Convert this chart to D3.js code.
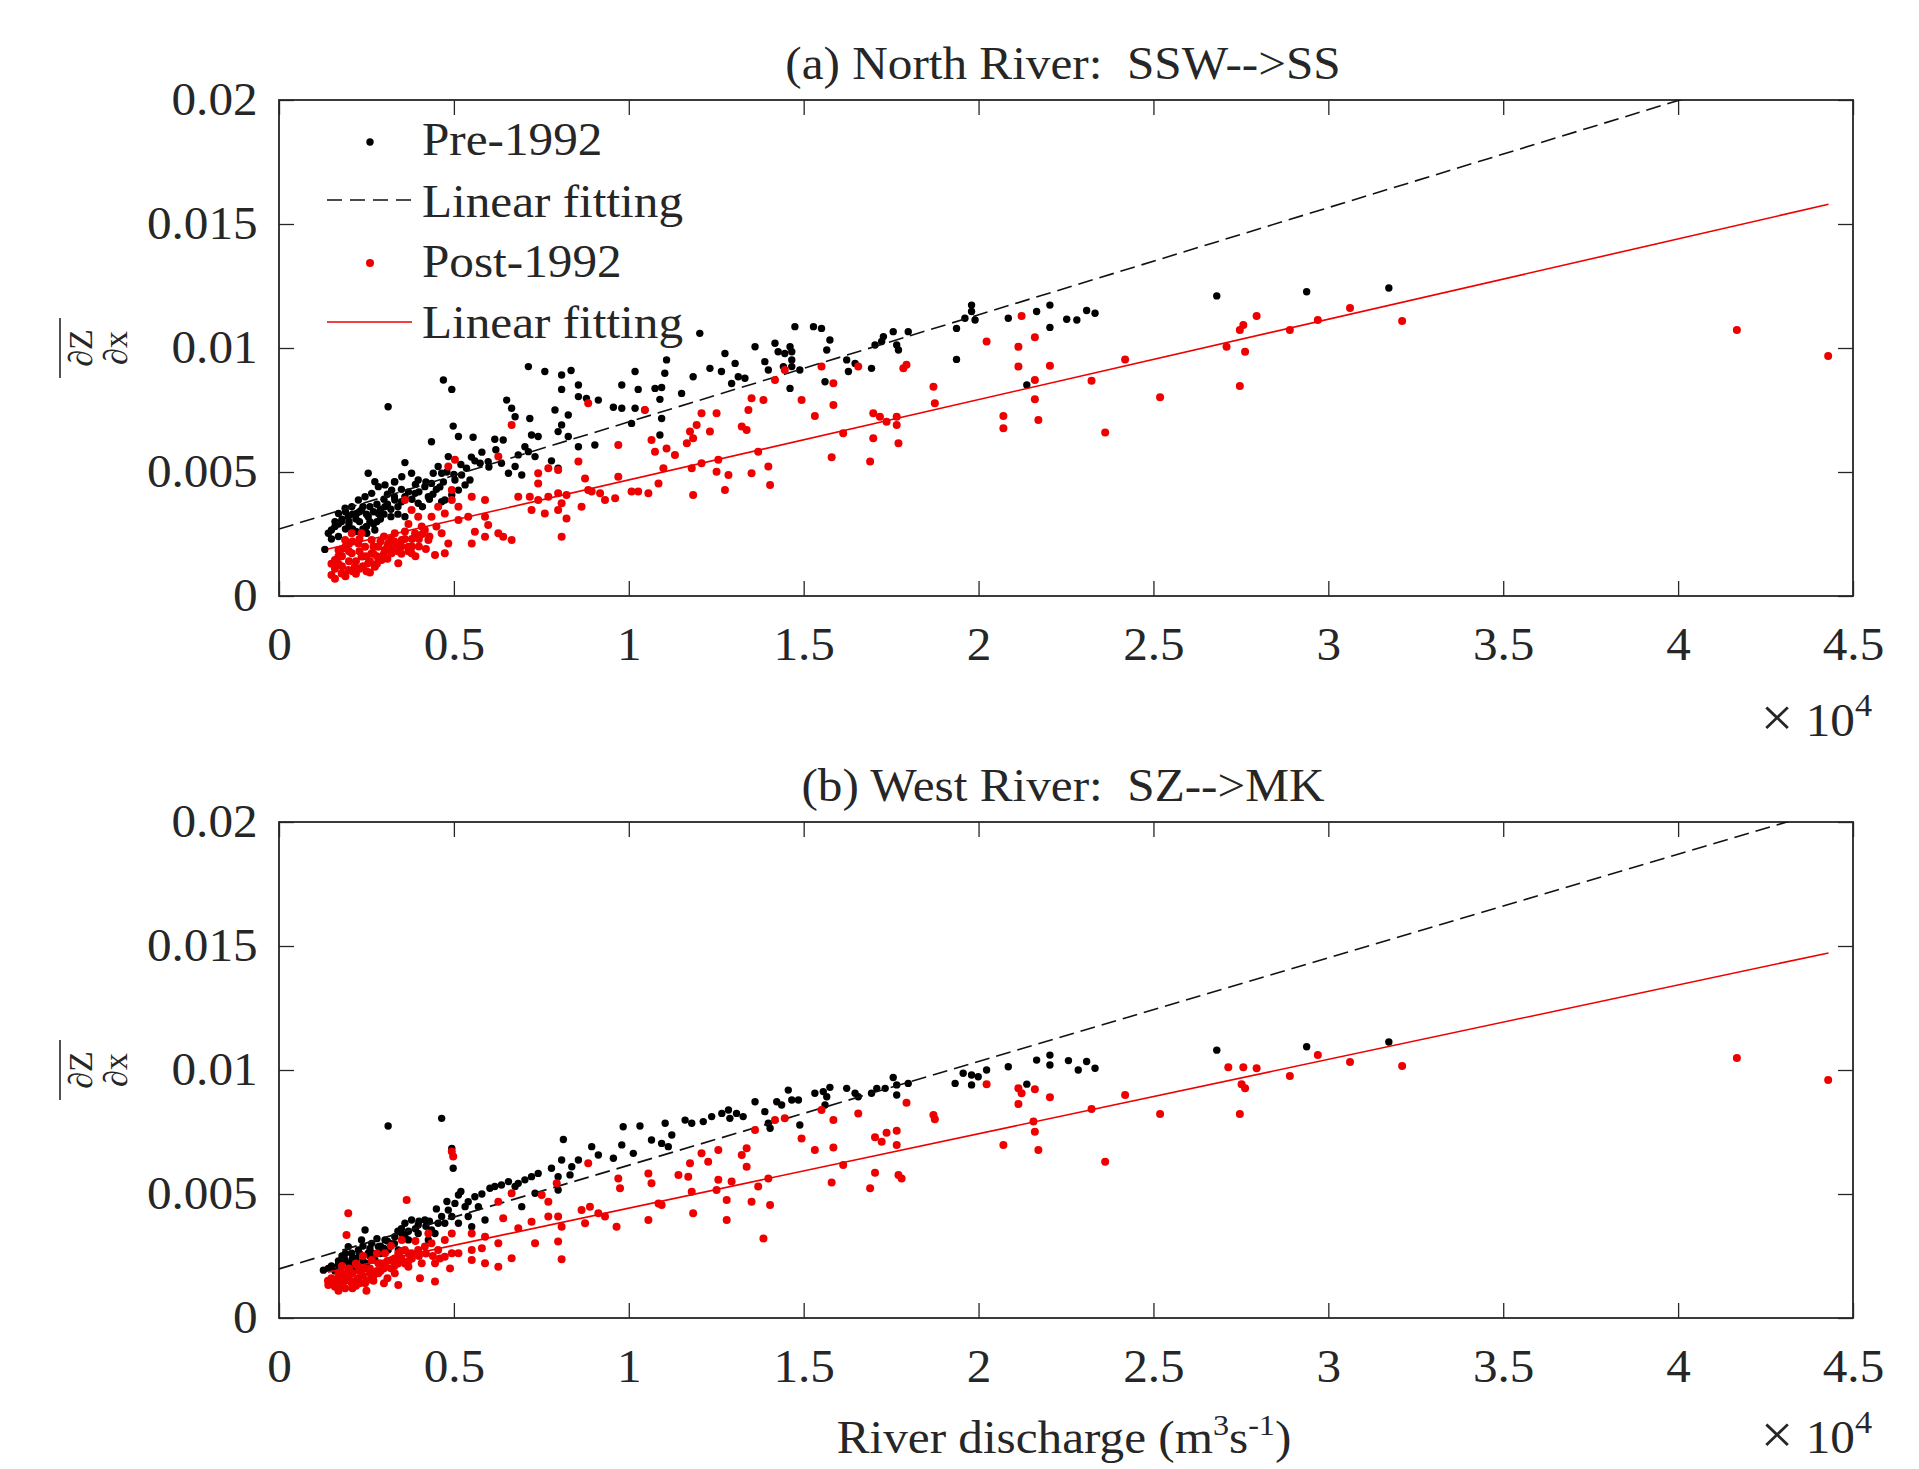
<!DOCTYPE html>
<meta charset="utf-8">
<style>
body { margin: 0; background: #fff; }
text { font-family: "Liberation Serif", "Times New Roman", serif; fill: #262626; }
</style>
<body>
<script src="https://d3js.org/d3.v7.min.js"></script>
<script>

// x values in 10^4 m3/s, y values in 10^-3 (mean dZ/dx)
var xTicks = [0, 0.5, 1, 1.5, 2, 2.5, 3, 3.5, 4, 4.5];
var xTickLabels = ["0", "0.5", "1", "1.5", "2", "2.5", "3", "3.5", "4", "4.5"];
var yTicks = [0, 5, 10, 15, 20];
var yTickLabels = ["0", "0.005", "0.01", "0.015", "0.02"];
var titles = ["(a) North River:\u00a0 SSW-->SS", "(b) West River:\u00a0 SZ-->MK"];
var legendLabels = ["Pre-1992", "Linear fitting", "Post-1992", "Linear fitting"];

// linear fits: [intercept, slope, xStart, xEnd]
var fitPreA = [2.7, 4.32, 0, 4.5];
var fitPostA = [1.44, 3.24, 0.14, 4.43];
var fitPreB = [1.98, 4.18, 0, 4.5];
var fitPostB = [1.43, 3.0, 0.14, 4.43];

// (a) North River, pre-1992
var preA = [[0.131,1.88],[0.312,7.63],[0.470,8.71],[0.494,8.33],[0.713,9.25],[0.760,9.05],[0.808,8.91],[0.835,9.09],[0.856,8.51],[0.808,8.33],[0.651,7.90],[0.665,7.57],[0.675,7.23],[0.498,6.85],[0.717,7.16],[0.436,6.22],[0.513,6.43],[0.555,6.40],[0.617,6.32],[0.641,6.29],[0.360,5.38],[0.255,4.95],[0.856,8.04],[0.879,7.97],[0.913,7.90],[0.956,7.61],[0.980,7.57],[1.018,7.57],[1.046,7.50],[1.018,9.05],[0.980,8.51],[1.027,8.33],[1.075,8.37],[1.094,8.41],[1.108,9.52],[1.103,8.98],[1.151,8.17],[1.089,7.93],[1.184,8.84],[1.232,9.18],[1.265,9.05],[1.275,9.78],[1.304,9.38],[1.313,8.84],[1.294,8.57],[1.332,8.78],[1.361,10.05],[1.418,10.19],[1.427,9.85],[1.446,9.78],[1.466,9.85],[1.475,10.86],[1.389,9.45],[1.399,9.11],[1.442,9.25],[1.466,9.25],[1.489,9.11],[1.461,8.37],[1.203,10.59],[1.089,6.49],[1.094,7.16],[1.008,6.96],[0.903,6.09],[0.856,6.02],[0.827,6.43],[0.827,7.30],[0.798,6.63],[0.808,6.90],[0.789,7.50],[0.741,6.43],[0.722,6.49],[0.703,6.02],[0.713,5.82],[0.732,5.62],[0.684,5.69],[0.675,5.22],[0.656,4.95],[0.694,4.88],[0.636,5.35],[0.798,5.15],[0.779,5.45],[0.598,5.42],[0.560,5.45],[0.575,5.35],[0.536,5.15],[0.522,4.88],[0.546,4.68],[0.532,4.48],[0.513,4.27],[0.494,4.07],[0.474,3.87],[0.465,4.95],[0.484,5.62],[0.455,5.22],[0.441,4.95],[0.436,4.54],[0.417,4.41],[0.398,4.68],[0.379,4.95],[0.351,4.81],[0.331,4.61],[0.322,4.27],[0.303,4.48],[0.284,4.41],[0.274,4.61],[0.265,4.14],[0.246,4.00],[0.227,3.87],[0.208,3.60],[0.189,3.54],[0.170,3.33],[0.179,3.00],[0.160,2.80],[0.198,3.20],[0.222,3.33],[0.236,3.47],[0.255,3.20],[0.284,3.33],[0.303,3.60],[0.331,3.87],[0.360,4.00],[0.389,4.14],[0.398,3.74],[0.427,4.00],[0.465,3.80],[0.503,4.68],[0.141,2.53],[0.150,2.66],[0.251,2.53],[0.274,2.66],
  [0.18,3.1],[0.20,2.9],[0.21,3.3],[0.23,3.0],[0.24,3.6],[0.26,3.0],[0.27,3.4],[0.29,3.1],[0.30,3.9],[0.32,3.5],[0.34,3.3],[0.35,3.8],[0.37,4.2],[0.19,2.7],[0.22,2.6],[0.16,3.0],[0.17,2.4],[0.25,2.8],[0.28,3.7],[0.31,4.1],[0.33,4.6],[0.36,3.2],[0.39,4.5],[0.41,3.6],[0.43,3.9],[0.45,4.3],[0.47,4.6],[0.50,4.9],[0.52,5.3],[0.55,5.6],[0.58,5.8],[0.60,5.2],[0.62,5.9],
  [0.15,2.3],[0.17,2.9],[0.19,3.4],[0.20,3.0],[0.21,2.7],[0.22,3.1],[0.23,3.4],[0.24,2.7],[0.25,3.3],[0.26,3.6],[0.27,2.9],[0.28,3.0],[0.29,3.5],[0.30,3.3],[0.31,3.7],[0.32,3.2],[0.33,4.0],[0.34,3.6],[0.35,4.3],[0.38,3.9],[0.40,4.2],[0.42,4.6],[0.44,4.1],[0.46,4.4],[0.48,5.0],
  [1.461,10.05],[1.466,9.52],[1.528,10.86],[1.551,10.79],[1.575,10.32],[1.566,9.92],[1.561,8.64],[1.623,9.52],[1.628,9.05],[1.647,9.38],[1.694,9.18],[1.704,10.12],[1.723,10.26],[1.728,10.46],[1.756,10.66],[1.799,10.66],[1.766,10.12],[1.771,9.92],[1.937,10.79],[1.937,9.54],[1.961,11.20],[1.980,11.73],[1.980,11.47],[1.990,11.13],[2.085,11.20],[2.166,11.47],[2.204,11.73],[2.204,10.83],[2.252,11.16],[2.281,11.13],[2.309,11.51],[2.333,11.40],[2.138,8.51],[2.681,12.10],[2.938,12.27],[3.173,12.42]];

// (a) North River, post-1992
var postA = [[0.884,7.77],[0.665,6.90],[0.627,5.62],[1.046,7.50],[0.970,6.09],[1.065,6.29],[1.075,5.82],[1.108,5.95],[1.132,5.69],[1.166,6.16],[1.175,6.63],[1.194,6.90],[1.184,6.36],[1.208,7.37],[1.251,7.37],[1.232,6.63],[1.342,7.50],[1.351,7.97],[1.385,7.90],[1.323,6.83],[1.337,6.69],[1.446,9.11],[1.418,8.71],[1.494,7.90],[0.856,5.42],[0.875,4.74],[0.741,4.95],[0.770,5.15],[0.741,4.54],[0.798,5.08],[0.970,4.81],[1.008,4.21],[1.027,4.21],[1.056,4.14],[1.085,4.54],[1.099,5.15],[1.180,5.15],[1.208,5.35],[1.256,5.49],[1.251,5.01],[1.285,4.88],[1.275,4.27],[1.351,4.95],[1.399,5.22],[1.404,4.48],[1.370,5.82],[1.184,4.07],[0.684,4.00],[0.717,4.00],[0.741,3.87],[0.770,4.00],[0.798,4.14],[0.822,4.07],[0.808,3.74],[0.865,3.60],[0.894,4.21],[0.918,4.14],[0.932,3.87],[0.961,3.94],[0.884,4.27],[0.722,3.47],[0.760,3.33],[0.798,3.47],[0.822,3.13],[0.808,2.39],[0.627,2.53],[0.589,2.39],[0.560,2.59],[0.551,2.12],[0.665,2.26],[0.641,2.39],[0.598,2.86],[0.589,3.20],[0.541,3.20],[0.513,3.06],[0.474,3.33],[0.455,3.60],[0.494,3.87],[0.494,4.27],[0.484,5.22],[0.503,5.49],[0.589,3.87],[0.551,4.00],[0.513,3.60],[0.465,2.53],[0.484,2.12],[0.474,1.72],[0.446,1.65],[0.427,2.26],[0.408,2.80],[0.398,3.20],[0.379,3.47],[0.360,3.87],[0.389,2.53],[0.370,1.99],[0.351,2.26],[0.331,2.53],[0.312,2.12],[0.303,1.85],[0.293,1.45],[0.274,1.18],[0.255,1.32],[0.236,1.59],[0.217,1.18],[0.198,1.05],[0.179,0.91],[0.150,0.85],[0.160,1.45],[0.170,1.85],[0.189,2.26],[0.208,2.53],[0.227,2.12],[0.246,1.99],[0.265,1.72],[0.284,1.99],[0.322,1.72],[0.341,1.32],[0.379,1.72],[0.417,2.66],[0.436,3.20],[0.236,2.53],[0.208,1.72],[0.265,2.26],
  [0.16,1.1],[0.18,1.6],[0.20,1.4],[0.22,0.9],[0.24,1.2],[0.26,0.95],[0.19,2.0],[0.21,2.2],[0.25,1.6],[0.28,1.6],[0.30,2.4],[0.32,2.3],[0.33,1.9],[0.35,1.7],[0.36,2.6],[0.38,2.3],[0.40,2.0],[0.42,1.9],[0.17,1.3],[0.23,1.8],[0.27,2.0],[0.31,1.5],[0.34,2.1],[0.37,2.9],[0.39,1.6],
  [0.15,1.3],[0.16,0.7],[0.17,1.6],[0.18,1.2],[0.19,0.8],[0.20,1.8],[0.21,1.0],[0.22,1.4],[0.23,1.1],[0.24,1.6],[0.25,1.0],[0.26,1.4],[0.27,1.7],[0.28,1.3],[0.29,2.2],[0.30,1.7],[0.31,2.0],[0.32,1.9],[0.33,2.2],[0.34,1.8],[0.35,2.0],[0.36,2.3],[0.37,1.8],[0.38,2.0],[0.39,2.4],[0.40,2.3],[0.41,2.5],[0.43,2.4],[0.45,2.8],[0.20,2.1],[0.23,2.3],[0.18,1.9],
  [1.551,9.25],[1.585,8.58],[1.656,9.25],[1.532,7.26],[1.585,7.70],[1.613,6.56],[1.580,5.59],[1.690,5.42],[1.699,7.37],[1.718,7.23],[1.737,7.03],[1.766,7.23],[1.766,6.90],[1.699,6.36],[1.771,6.16],[1.785,9.18],[1.794,9.32],[1.871,8.44],[1.875,7.77],[2.023,10.26],[2.071,7.26],[2.071,6.76],[2.114,10.05],[2.114,9.25],[2.123,11.29],[2.161,10.43],[2.161,8.71],[2.161,7.93],[2.171,7.10],[2.204,9.28],[2.323,8.68],[2.362,6.59],[2.419,9.54],[2.519,8.01],[2.709,10.05],[2.747,10.73],[2.757,10.93],[2.762,9.85],[2.747,8.47],[2.795,11.29],[2.890,10.73],
  [2.970,11.13],[3.062,11.61],[3.211,11.09],[4.168,10.73],[4.429,9.68]];

// (b) West River, pre-1992
var preB = [[0.312,7.74],[0.465,8.05],[0.494,6.84],[0.498,6.04],[0.813,7.20],[0.984,7.71],[1.032,7.74],[1.104,7.85],[1.013,6.64],[0.980,6.98],[1.065,7.18],[1.094,7.04],[1.123,7.38],[1.113,6.91],[1.161,7.98],[1.180,7.85],[1.213,7.92],[1.237,8.12],[1.266,8.25],[1.289,8.05],[1.308,8.25],[1.327,8.12],[1.361,8.72],[1.389,8.32],[1.399,7.85],[1.423,8.72],[1.437,8.59],[1.456,9.19],[1.466,8.79],[1.485,8.79],[1.489,7.78],[1.404,7.65],[1.285,8.39],[0.894,6.91],[0.913,6.57],[0.956,6.44],[0.856,6.37],[0.837,6.10],[0.808,6.37],[0.832,5.77],[0.798,5.70],[0.779,6.04],[0.741,5.83],[0.722,5.70],[0.703,5.57],[0.684,5.43],[0.675,5.30],[0.656,5.50],[0.636,5.36],[0.617,5.30],[0.603,5.23],[0.798,5.16],[0.732,5.03],[0.694,4.49],[0.589,3.95],[0.570,4.49],[0.560,4.89],[0.541,4.69],[0.532,4.49],[0.513,4.96],[0.503,4.62],[0.484,4.35],[0.465,4.09],[0.455,3.82],[0.436,3.55],[0.417,3.95],[0.398,3.75],[0.379,3.95],[0.360,3.82],[0.351,3.41],[0.331,3.28],[0.303,3.15],[0.284,2.88],[0.265,3.01],[0.246,3.55],[0.236,3.15],[0.227,2.74],[0.208,2.61],[0.189,2.34],[0.170,2.14],[0.141,2.00],[0.127,1.93],[0.198,2.88],[0.255,2.61],[0.274,2.34],[0.312,2.74],[0.341,2.74],[0.370,3.15],[0.398,3.41],[0.427,3.15],[0.446,3.41],[0.474,3.82],[0.494,4.09],[0.541,4.09],[0.551,3.68],[0.513,3.82],
  [0.18,2.5],[0.20,2.2],[0.22,2.4],[0.24,2.9],[0.26,2.5],[0.28,3.2],[0.30,2.8],[0.32,3.0],[0.34,3.5],[0.36,3.3],[0.16,1.9],[0.21,2.0],[0.25,2.2],[0.29,2.6],[0.39,3.6],[0.42,3.7],[0.45,4.4],[0.48,4.7],[0.52,5.1],[0.58,5.0],
  [0.15,2.1],[0.17,2.3],[0.19,2.6],[0.21,2.4],[0.23,2.6],[0.24,2.3],[0.26,2.8],[0.27,2.6],[0.29,2.9],[0.31,3.1],[0.33,3.0],[0.35,3.6],[0.37,3.5],[0.40,3.9],[0.43,3.9],
  [1.532,9.06],[1.556,9.13],[1.575,9.30],[1.566,8.92],[1.561,8.59],[1.623,9.26],[1.647,9.06],[1.656,8.92],[1.694,9.06],[1.709,9.26],[1.733,9.26],[1.756,9.70],[1.766,9.40],[1.766,8.99],[1.799,9.46],[1.933,9.46],[1.956,9.87],[1.980,9.80],[1.980,9.40],[1.999,9.73],[2.023,10.00],[2.085,10.13],[2.138,9.43],[2.166,10.40],[2.204,10.60],[2.204,10.20],[2.257,10.38],[2.285,10.00],[2.309,10.34],[2.333,10.07],[2.681,10.80],[2.938,10.94],[3.173,11.13]];

// (b) West River, post-1992
var postB = [[0.494,6.71],[0.498,6.51],[0.365,4.76],[0.198,4.22],[0.193,3.35],[0.641,4.02],[0.627,4.69],[0.665,5.03],[0.751,4.96],[0.770,4.69],[0.794,5.43],[0.770,4.09],[0.798,4.09],[0.808,3.68],[0.798,3.08],[0.808,2.37],[0.865,4.35],[0.889,4.49],[0.913,4.22],[0.932,4.09],[0.965,3.68],[0.875,3.82],[0.732,3.01],[0.722,3.88],[0.684,3.62],[0.627,3.01],[0.665,2.41],[0.627,2.07],[0.589,2.21],[0.551,2.34],[0.551,2.74],[0.580,2.81],[0.589,3.28],[0.551,3.41],[0.513,2.61],[0.489,2.00],[0.446,1.47],[0.403,1.60],[0.341,1.33],[0.884,6.24],[0.970,5.63],[0.975,5.23],[1.056,5.83],[1.065,5.43],[1.056,3.95],[1.085,4.62],[1.094,4.56],[1.142,5.77],[1.170,5.70],[1.175,6.24],[1.180,5.09],[1.184,4.22],[1.208,6.64],[1.227,6.30],[1.256,6.77],[1.256,5.57],[1.251,5.16],[1.294,5.50],[1.280,4.76],[1.280,3.95],[1.323,6.57],[1.337,6.84],[1.337,6.10],[1.351,4.69],[1.361,7.58],[1.370,5.30],[1.399,5.63],[1.404,4.56],[1.385,3.21],[1.446,8.05],[1.494,7.24],[1.418,7.98],
  [0.141,1.33],[0.160,1.26],[0.179,1.53],[0.189,1.20],[0.208,1.40],[0.227,1.60],[0.246,1.40],[0.265,1.67],[0.284,1.80],[0.303,2.07],[0.322,2.34],[0.341,2.61],[0.360,2.74],[0.379,2.61],[0.398,2.74],[0.417,2.88],[0.436,3.01],[0.455,2.74],[0.474,2.47],[0.494,2.61],[0.170,1.80],[0.208,1.80],[0.246,2.00],[0.284,2.21],[0.331,1.80],[0.370,2.07],[0.408,2.21],[0.446,2.21],[0.474,3.15],[0.427,3.41],[0.494,3.41],[0.351,3.15],[0.303,2.61],[0.265,2.34],[0.227,2.07],[0.198,1.93],
  [0.15,1.6],[0.17,1.1],[0.19,1.7],[0.21,1.2],[0.23,1.9],[0.25,1.1],[0.27,1.5],[0.29,1.9],[0.31,1.6],[0.33,2.1],[0.35,2.4],[0.37,2.3],[0.39,3.1],[0.22,1.5],[0.26,2.0],[0.30,1.4],[0.18,2.1],[0.24,2.5],[0.28,2.6],[0.32,2.9],
  [0.14,1.5],[0.16,1.4],[0.17,1.6],[0.18,1.3],[0.19,1.5],[0.20,1.6],[0.21,1.8],[0.22,1.3],[0.23,1.4],[0.24,1.7],[0.25,1.5],[0.26,1.8],[0.27,1.7],[0.28,1.9],[0.29,2.2],[0.30,2.0],[0.31,2.3],[0.32,2.0],[0.33,2.4],[0.34,2.2],[0.35,2.7],[0.36,2.2],[0.37,2.6],[0.38,2.4],[0.40,2.5],[0.42,2.6],[0.44,2.5],[0.46,2.4],[0.20,2.0],[0.22,2.2],[0.18,1.8],
  [1.551,8.39],[1.585,7.98],[1.656,8.25],[1.532,6.77],[1.585,6.88],[1.613,6.17],[1.580,5.46],[1.690,5.23],[1.704,7.29],[1.723,7.11],[1.737,7.47],[1.766,7.55],[1.766,6.98],[1.704,5.86],[1.771,5.77],[1.780,5.63],[1.794,8.68],[1.871,8.19],[1.875,8.01],[2.023,9.43],[2.071,6.98],[2.114,8.63],[2.114,9.26],[2.123,9.06],[2.161,9.22],[2.157,7.92],[2.161,7.51],[2.171,6.77],[2.204,8.90],[2.323,8.43],[2.362,6.30],[2.419,8.99],[2.519,8.23],[2.714,10.11],[2.757,10.11],[2.795,10.07],[2.752,9.43],[2.762,9.26],[2.747,8.23],[2.890,9.76],
  [2.970,10.60],[3.062,10.32],[3.211,10.16],[4.168,10.48],[4.429,9.60]];

// layout
var W = 1919, H = 1469;
var left = 279, right = 1853, plotH = 496;
var sx = 1.07;            // reference text is slightly wide
var fontSize = 46;
var ink = "#262626";
var red = "#ee0000";

var panels = [
  {top: 100, title: titles[0], pre: preA, post: postA, fitPre: fitPreA, fitPost: fitPostA, legend: true, multY: 736},
  {top: 822, title: titles[1], pre: preB, post: postB, fitPre: fitPreB, fitPost: fitPostB, legend: false, multY: 1453}
];

var svg = d3.select("body").append("svg")
    .attr("width", W)
    .attr("height", H)
    .style("background", "#fff");

var x = d3.scaleLinear().domain([0, 4.5]).range([left, right]);

function place(sel, px, py) {
  return sel.attr("transform", "translate(" + px + "," + py + ") scale(" + sx + ",1)");
}

var line = d3.line()
    .x(function(d) { return x(d[0]); });

panels.forEach(function(p, i) {
  var top = p.top, bottom = top + plotH;
  var y = d3.scaleLinear().domain([0, 20]).range([bottom, top]);
  line.y(function(d) { return y(d[1]); });

  var g = svg.append("g");

  g.append("clipPath").attr("id", "clip" + i)
    .append("rect")
      .attr("x", left).attr("y", top)
      .attr("width", right - left).attr("height", plotH);

  // axes with inward ticks
  var axB = g.append("g")
      .attr("transform", "translate(0," + bottom + ")")
      .call(d3.axisBottom(x).tickValues(xTicks)
        .tickFormat(function(d, k) { return xTickLabels[k]; })
        .tickSizeInner(-15).tickSizeOuter(0).tickPadding(31));
  var axT = g.append("g")
      .attr("transform", "translate(0," + top + ")")
      .call(d3.axisTop(x).tickValues(xTicks).tickFormat("")
        .tickSizeInner(-15).tickSizeOuter(0));
  var axL = g.append("g")
      .attr("transform", "translate(" + left + ",0)")
      .call(d3.axisLeft(y).tickValues(yTicks)
        .tickFormat(function(d, k) { return yTickLabels[k]; })
        .tickSizeInner(-15).tickSizeOuter(0).tickPadding(20));
  var axR = g.append("g")
      .attr("transform", "translate(" + right + ",0)")
      .call(d3.axisRight(y).tickValues(yTicks).tickFormat("")
        .tickSizeInner(-15).tickSizeOuter(0));

  [axB, axT, axL, axR].forEach(function(a) {
    a.style("color", ink)
     .attr("font-size", fontSize)
     .attr("font-family", "'Liberation Serif', 'Times New Roman', serif");
    a.select(".domain").remove();
    a.selectAll(".tick line").attr("stroke-width", 1.3);
    a.selectAll("text").attr("transform", "scale(" + sx + ",1)");
  });

  // box
  g.append("rect")
      .attr("x", left).attr("y", top)
      .attr("width", right - left).attr("height", plotH)
      .attr("fill", "none").attr("stroke", ink).attr("stroke-width", 1.8);

  var plot = g.append("g").attr("clip-path", "url(#clip" + i + ")");

  // pre-1992 dots and fit
  plot.append("g").selectAll("circle")
    .data(p.pre)
    .enter().append("circle")
      .attr("cx", function(d) { return x(d[0]); })
      .attr("cy", function(d) { return y(d[1]); })
      .attr("r", 3.7)
      .attr("fill", "#000");

  var fp = p.fitPre;
  plot.append("path")
      .attr("d", line([[fp[2], fp[0] + fp[1] * fp[2]], [fp[3], fp[0] + fp[1] * fp[3]]]))
      .attr("fill", "none").attr("stroke", "#111")
      .attr("stroke-width", 1.6).attr("stroke-dasharray", "15,7");

  // post-1992 dots and fit
  plot.append("g").selectAll("circle")
    .data(p.post)
    .enter().append("circle")
      .attr("cx", function(d) { return x(d[0]); })
      .attr("cy", function(d) { return y(d[1]); })
      .attr("r", 4)
      .attr("fill", red);

  var fq = p.fitPost;
  plot.append("path")
      .attr("d", line([[fq[2], fq[0] + fq[1] * fq[2]], [fq[3], fq[0] + fq[1] * fq[3]]]))
      .attr("fill", "none").attr("stroke", red)
      .attr("stroke-width", 1.6);

  // title
  place(g.append("text"), (left + right) / 2 - 3, top - 21)
      .attr("text-anchor", "middle")
      .attr("font-size", fontSize)
      .text(p.title);

  // x 10^4
  var mult = place(g.append("text"), 1872, p.multY)
      .attr("text-anchor", "end")
      .attr("font-size", fontSize);
  mult.append("tspan").attr("font-size", 54).attr("font-weight", 300).text("\u00d7");
  mult.append("tspan").attr("font-size", fontSize).text(" 10");
  mult.append("tspan").attr("font-size", 32).attr("dy", -20).text("4");

  // y label: overline of dZ/dx, rotated
  var cy = (top + bottom) / 2;
  var yl = g.append("g")
      .attr("transform", "translate(0," + cy + ") rotate(-90)");
  yl.append("line")
      .attr("x1", -30).attr("x2", 30).attr("y1", 60).attr("y2", 60)
      .attr("stroke", ink).attr("stroke-width", 1.6);
  yl.append("text").attr("x", 0).attr("y", 92)
      .attr("text-anchor", "middle")
      .attr("font-family", "'Liberation Sans', 'DejaVu Sans', sans-serif")
      .attr("font-size", 34)
      .text("\u2202Z");
  yl.append("text").attr("x", 0).attr("y", 127)
      .attr("text-anchor", "middle")
      .attr("font-family", "'Liberation Sans', 'DejaVu Sans', sans-serif")
      .attr("font-size", 34)
      .text("\u2202x");

  if (p.legend) {
    var lg = g.append("g");
    lg.append("circle").attr("cx", 370).attr("cy", 142).attr("r", 3.7).attr("fill", "#000");
    lg.append("line").attr("x1", 327).attr("x2", 412).attr("y1", 200).attr("y2", 200)
        .attr("stroke", "#111").attr("stroke-width", 1.6).attr("stroke-dasharray", "15,8");
    lg.append("circle").attr("cx", 370).attr("cy", 263).attr("r", 4).attr("fill", red);
    lg.append("line").attr("x1", 327).attr("x2", 412).attr("y1", 322).attr("y2", 322)
        .attr("stroke", red).attr("stroke-width", 1.6);
    var baselines = [155, 217, 277, 338];
    legendLabels.forEach(function(t, k) {
      place(lg.append("text"), 422, baselines[k])
          .attr("font-size", fontSize)
          .text(t);
    });
  }
});

// x axis label under the lower panel
var xl = place(svg.append("text"), 1064, 1453)
    .attr("text-anchor", "middle")
    .attr("font-size", fontSize);
xl.append("tspan").text("River discharge (m");
xl.append("tspan").attr("font-size", 30).attr("dy", -18).text("3");
xl.append("tspan").attr("font-size", fontSize).attr("dy", 18).text("s");
xl.append("tspan").attr("font-size", 30).attr("dy", -18).text("-1");
xl.append("tspan").attr("font-size", fontSize).attr("dy", 18).text(")");

</script>
</body>
